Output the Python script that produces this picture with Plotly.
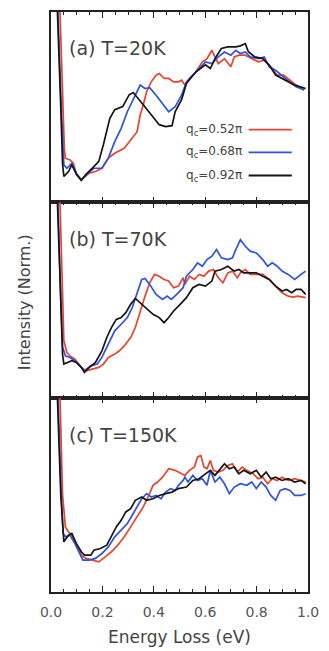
import plotly.graph_objects as go
from plotly.subplots import make_subplots

# ---------------- data: (energy loss eV, normalized intensity) ----------------
# panel (a) T=20K
a_red = [(0.01, 2.5), (0.028, 1.2), (0.035, 1.0), (0.045, 0.5), (0.052, 0.28), (0.056, 0.232), (0.074, 0.223),
         (0.087, 0.206), (0.099, 0.145), (0.118, 0.118), (0.149, 0.153), (0.173, 0.162), (0.198, 0.179),
         (0.223, 0.232), (0.248, 0.258), (0.285, 0.284), (0.316, 0.337), (0.335, 0.371), (0.347, 0.459),
         (0.359, 0.511), (0.372, 0.581), (0.390, 0.633), (0.409, 0.668), (0.421, 0.677), (0.440, 0.651),
         (0.458, 0.651), (0.477, 0.633), (0.496, 0.633), (0.508, 0.642), (0.521, 0.616), (0.539, 0.651),
         (0.564, 0.686), (0.589, 0.738), (0.607, 0.755), (0.626, 0.799), (0.651, 0.729), (0.675, 0.755),
         (0.700, 0.712), (0.713, 0.764), (0.731, 0.773), (0.756, 0.773), (0.781, 0.755), (0.806, 0.738),
         (0.830, 0.747), (0.855, 0.712), (0.880, 0.668), (0.905, 0.668), (0.930, 0.642), (0.954, 0.616),
         (0.985, 0.590)]
a_blue = [(0.01, 2.0), (0.022, 1.2), (0.027, 1.0), (0.040, 0.5), (0.046, 0.25), (0.050, 0.197), (0.062, 0.179),
          (0.081, 0.206), (0.099, 0.153), (0.118, 0.118), (0.143, 0.153), (0.167, 0.179), (0.198, 0.179),
          (0.223, 0.232), (0.248, 0.319), (0.273, 0.389), (0.297, 0.476), (0.322, 0.546), (0.347, 0.616),
          (0.366, 0.598), (0.384, 0.602), (0.409, 0.563), (0.434, 0.520), (0.458, 0.476), (0.483, 0.502),
          (0.508, 0.563), (0.527, 0.633), (0.564, 0.686), (0.601, 0.738), (0.626, 0.729), (0.651, 0.764),
          (0.675, 0.790), (0.700, 0.773), (0.719, 0.799), (0.737, 0.782), (0.756, 0.790), (0.775, 0.764),
          (0.806, 0.755), (0.830, 0.764), (0.849, 0.712), (0.874, 0.694), (0.911, 0.651), (0.930, 0.633),
          (0.954, 0.607), (0.985, 0.590)]
a_black = [(0.01, 2.0), (0.02, 1.2), (0.025, 1.0), (0.038, 0.5), (0.045, 0.2), (0.050, 0.136), (0.068, 0.162),
           (0.081, 0.197), (0.099, 0.147), (0.118, 0.115), (0.136, 0.147), (0.161, 0.180), (0.186, 0.215),
           (0.204, 0.304), (0.229, 0.441), (0.248, 0.487), (0.279, 0.503), (0.304, 0.565), (0.320, 0.577),
           (0.359, 0.513), (0.397, 0.450), (0.421, 0.408), (0.446, 0.398), (0.471, 0.403), (0.483, 0.476),
           (0.508, 0.540), (0.527, 0.625), (0.564, 0.686), (0.601, 0.723), (0.620, 0.703), (0.638, 0.755),
           (0.663, 0.808), (0.688, 0.817), (0.719, 0.817), (0.737, 0.822), (0.756, 0.834), (0.768, 0.791),
           (0.793, 0.764), (0.824, 0.755), (0.849, 0.721), (0.874, 0.669), (0.911, 0.642), (0.948, 0.616),
           (0.991, 0.598)]

# panel (b) T=70K
b_red = [(0.01, 2.5), (0.028, 1.2), (0.035, 1.0), (0.045, 0.5), (0.050, 0.291), (0.062, 0.231), (0.074, 0.214),
         (0.093, 0.197), (0.118, 0.155), (0.136, 0.138), (0.161, 0.146), (0.186, 0.155), (0.204, 0.172),
         (0.223, 0.206), (0.248, 0.223), (0.266, 0.240), (0.285, 0.265), (0.310, 0.308), (0.328, 0.359),
         (0.347, 0.444), (0.366, 0.520), (0.384, 0.588), (0.403, 0.631), (0.421, 0.622), (0.440, 0.605),
         (0.458, 0.597), (0.477, 0.563), (0.496, 0.571), (0.514, 0.614), (0.521, 0.580), (0.539, 0.622),
         (0.558, 0.605), (0.576, 0.631), (0.595, 0.622), (0.614, 0.648), (0.632, 0.656), (0.651, 0.614),
         (0.669, 0.588), (0.688, 0.639), (0.706, 0.648), (0.725, 0.614), (0.737, 0.639), (0.756, 0.656),
         (0.775, 0.631), (0.799, 0.631), (0.824, 0.631), (0.849, 0.605), (0.874, 0.571), (0.899, 0.537),
         (0.923, 0.520), (0.942, 0.515), (0.960, 0.520), (0.991, 0.512)]
b_blue = [(0.01, 2.0), (0.022, 1.2), (0.027, 1.0), (0.038, 0.5), (0.045, 0.26), (0.056, 0.214), (0.074, 0.206),
          (0.093, 0.189), (0.112, 0.163), (0.130, 0.138), (0.155, 0.163), (0.180, 0.172), (0.198, 0.206),
          (0.223, 0.274), (0.248, 0.342), (0.273, 0.376), (0.297, 0.410), (0.316, 0.461), (0.335, 0.537),
          (0.353, 0.605), (0.366, 0.610), (0.384, 0.580), (0.409, 0.529), (0.434, 0.503), (0.452, 0.520),
          (0.468, 0.503), (0.489, 0.529), (0.514, 0.563), (0.527, 0.622), (0.552, 0.656), (0.570, 0.690),
          (0.589, 0.673), (0.607, 0.707), (0.626, 0.724), (0.644, 0.758), (0.663, 0.716), (0.688, 0.707),
          (0.706, 0.716), (0.719, 0.758), (0.737, 0.809), (0.756, 0.775), (0.775, 0.750), (0.799, 0.741),
          (0.824, 0.707), (0.843, 0.673), (0.861, 0.690), (0.880, 0.673), (0.899, 0.648), (0.923, 0.631),
          (0.948, 0.605), (0.973, 0.631), (0.991, 0.648)]
b_black = [(0.01, 2.0), (0.02, 1.2), (0.025, 1.0), (0.038, 0.5), (0.045, 0.22), (0.050, 0.172), (0.068, 0.180),
           (0.081, 0.189), (0.099, 0.180), (0.118, 0.155), (0.130, 0.129), (0.149, 0.155), (0.173, 0.180),
           (0.198, 0.240), (0.217, 0.308), (0.235, 0.359), (0.254, 0.401), (0.273, 0.410), (0.291, 0.435),
           (0.310, 0.478), (0.328, 0.508), (0.347, 0.486), (0.372, 0.452), (0.397, 0.427), (0.421, 0.410),
           (0.440, 0.384), (0.458, 0.410), (0.477, 0.444), (0.496, 0.469), (0.514, 0.495), (0.527, 0.512),
           (0.552, 0.563), (0.576, 0.580), (0.601, 0.571), (0.626, 0.597), (0.638, 0.648), (0.663, 0.656),
           (0.688, 0.673), (0.713, 0.648), (0.731, 0.656), (0.750, 0.639), (0.775, 0.639), (0.799, 0.639),
           (0.824, 0.622), (0.849, 0.605), (0.874, 0.571), (0.899, 0.546), (0.917, 0.554), (0.936, 0.537),
           (0.954, 0.554), (0.973, 0.554), (0.991, 0.529)]

# panel (c) T=150K
c_red = [(0.01, 2.5), (0.028, 1.2), (0.035, 1.0), (0.045, 0.5), (0.056, 0.335), (0.068, 0.309), (0.081, 0.292),
         (0.099, 0.241), (0.118, 0.190), (0.136, 0.173), (0.161, 0.164), (0.186, 0.155), (0.211, 0.181),
         (0.235, 0.207), (0.260, 0.241), (0.285, 0.284), (0.310, 0.335), (0.335, 0.386), (0.359, 0.438),
         (0.378, 0.489), (0.397, 0.549), (0.415, 0.566), (0.434, 0.591), (0.458, 0.634), (0.483, 0.626),
         (0.508, 0.608), (0.521, 0.600), (0.539, 0.626), (0.558, 0.643), (0.570, 0.694), (0.583, 0.703),
         (0.595, 0.643), (0.607, 0.634), (0.620, 0.677), (0.632, 0.626), (0.651, 0.617), (0.669, 0.626),
         (0.688, 0.651), (0.706, 0.660), (0.725, 0.617), (0.744, 0.643), (0.762, 0.626), (0.787, 0.608),
         (0.806, 0.583), (0.824, 0.591), (0.843, 0.557), (0.861, 0.583), (0.880, 0.574), (0.899, 0.591),
         (0.923, 0.574), (0.948, 0.583), (0.973, 0.574), (0.991, 0.566)]
c_blue = [(0.01, 2.0), (0.022, 1.2), (0.027, 1.0), (0.040, 0.5), (0.047, 0.301), (0.056, 0.284), (0.074, 0.292),
          (0.093, 0.249), (0.112, 0.198), (0.124, 0.164), (0.149, 0.164), (0.173, 0.173), (0.198, 0.198),
          (0.223, 0.232), (0.248, 0.284), (0.273, 0.318), (0.297, 0.352), (0.316, 0.395), (0.335, 0.438),
          (0.353, 0.480), (0.372, 0.506), (0.390, 0.489), (0.409, 0.497), (0.428, 0.480), (0.446, 0.514),
          (0.465, 0.532), (0.483, 0.523), (0.496, 0.549), (0.514, 0.574), (0.521, 0.591), (0.533, 0.566),
          (0.552, 0.600), (0.570, 0.574), (0.589, 0.583), (0.607, 0.549), (0.620, 0.626), (0.638, 0.566),
          (0.657, 0.591), (0.675, 0.557), (0.694, 0.506), (0.713, 0.540), (0.737, 0.557), (0.762, 0.549),
          (0.781, 0.566), (0.799, 0.532), (0.818, 0.566), (0.837, 0.540), (0.855, 0.497), (0.874, 0.472),
          (0.892, 0.523), (0.911, 0.532), (0.930, 0.523), (0.948, 0.497), (0.973, 0.497), (0.991, 0.506)]
c_black = [(0.01, 2.0), (0.02, 1.2), (0.025, 1.0), (0.038, 0.5), (0.050, 0.258), (0.068, 0.292), (0.081, 0.301),
           (0.099, 0.249), (0.118, 0.207), (0.130, 0.190), (0.155, 0.190), (0.167, 0.215), (0.192, 0.224),
           (0.217, 0.241), (0.235, 0.284), (0.254, 0.335), (0.273, 0.369), (0.291, 0.412), (0.310, 0.429),
           (0.328, 0.472), (0.353, 0.489), (0.372, 0.472), (0.397, 0.480), (0.421, 0.497), (0.446, 0.506),
           (0.471, 0.514), (0.496, 0.532), (0.527, 0.540), (0.552, 0.574), (0.576, 0.583), (0.601, 0.608),
           (0.620, 0.626), (0.638, 0.600), (0.657, 0.634), (0.675, 0.660), (0.694, 0.634), (0.713, 0.643),
           (0.731, 0.608), (0.750, 0.626), (0.775, 0.608), (0.799, 0.626), (0.818, 0.591), (0.837, 0.617),
           (0.855, 0.583), (0.874, 0.591), (0.899, 0.574), (0.923, 0.583), (0.948, 0.566), (0.973, 0.574),
           (0.991, 0.557)]

panel_labels = ["(a) T=20K", "(b) T=70K", "(c) T=150K"]
series_names = ["q<sub>c</sub>=0.52\u03c0", "q<sub>c</sub>=0.68\u03c0", "q<sub>c</sub>=0.92\u03c0"]
colors = ["#e8452e", "#2f52e0", "#151515"]
x_ticks = [0.0, 0.2, 0.4, 0.6, 0.8, 1.0]

panels = [[a_red, a_blue, a_black], [b_red, b_blue, b_black], [c_red, c_blue, c_black]]

FONT = "DejaVu Sans"
W, H = 329, 651
ML, MR, MT, MB = 51, 10, 10, 59

fig = make_subplots(rows=3, cols=1, shared_xaxes=True, vertical_spacing=0)

for r, series in enumerate(panels, start=1):
    for s, (data, col, name) in enumerate(zip(series, colors, series_names)):
        fig.add_trace(go.Scatter(x=[p[0] for p in data], y=[p[1] for p in data], mode="lines",
                                 line=dict(color=col, width=1.7), name=name, showlegend=False),
                      row=r, col=1)

# domains (top panel first)
ph = H - MT - MB
domains = [[(ph - 191) / ph, 1.0], [(ph - 387) / ph, (ph - 191) / ph], [0.0, (ph - 387) / ph]]

for r in range(1, 4):
    xa = "xaxis" if r == 1 else f"xaxis{r}"
    ya = "yaxis" if r == 1 else f"yaxis{r}"
    fig.layout[xa].update(range=[0, 1], showline=True, linecolor="#222", linewidth=1.6, mirror="ticks",
                          ticks="inside", ticklen=6, tickwidth=1.3, tickcolor="#222",
                          tickvals=x_ticks, showgrid=False, zeroline=False,
                          minor=dict(dtick=0.05, tick0=0, ticks="inside", ticklen=3, tickwidth=1.2,
                                     tickcolor="#222", showgrid=False),
                          showticklabels=(r == 3))
    fig.layout[ya].update(range=[0, 1], domain=domains[r - 1], showline=True, linecolor="#222",
                          linewidth=1.6, mirror=True, ticks="", showticklabels=False,
                          showgrid=False, zeroline=False)

fig.layout.xaxis3.update(tickformat=".1f", ticklabelstandoff=6,
                         tickfont=dict(family=FONT, size=14, color="#555"))

annotations = []
for r, lab in enumerate(panel_labels, start=1):
    sfx = "" if r == 1 else str(r)
    annotations.append(dict(text=lab, x=0.063, y=0.81, xref="x" + sfx, yref="y" + sfx,
                            xanchor="left", yanchor="middle", showarrow=False,
                            font=dict(family=FONT, size=19, color="#444")))

legend_y = [0.382, 0.262, 0.141]
for name, col, ly in zip(series_names, colors, legend_y):
    annotations.append(dict(text=name, x=0.75, y=ly, xref="x", yref="y", xanchor="right",
                            yanchor="middle", showarrow=False,
                            font=dict(family=FONT, size=12, color="#444")))
    fig.add_shape(type="line", x0=0.769, x1=0.937, y0=ly, y1=ly, xref="x", yref="y",
                  line=dict(color=col, width=1.8))

annotations.append(dict(text="Intensity (Norm.)", x=-0.104, y=0.5, xref="paper", yref="paper",
                        textangle=-90, showarrow=False, xanchor="center", yanchor="middle",
                        font=dict(family=FONT, size=16, color="#444")))
annotations.append(dict(text="Energy Loss (eV)", x=0.5, y=-0.077, xref="paper", yref="paper",
                        showarrow=False, xanchor="center", yanchor="middle",
                        font=dict(family=FONT, size=17, color="#444")))

fig.update_layout(width=W, height=H, margin=dict(l=ML, r=MR, t=MT, b=MB),
                  paper_bgcolor="white", plot_bgcolor="white", annotations=annotations,
                  showlegend=False)

fig.write_html("out.html")
